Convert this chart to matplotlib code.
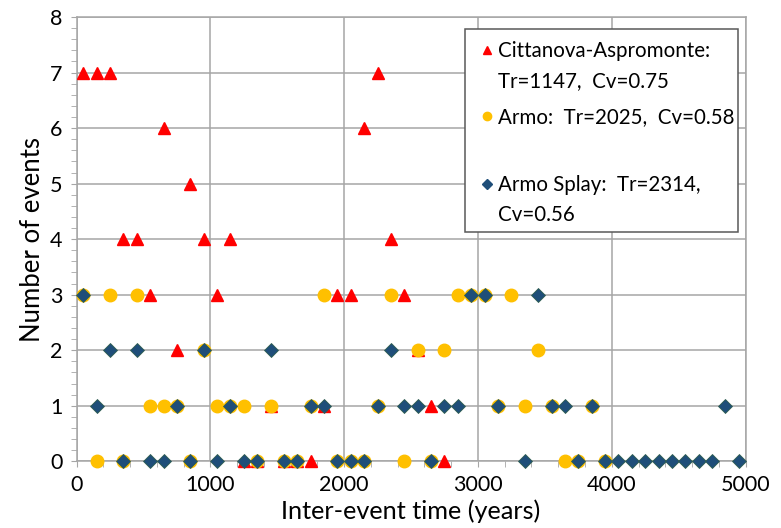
import numpy as np
import matplotlib
matplotlib.use("Agg")
import matplotlib.pyplot as plt
from matplotlib.ticker import MultipleLocator
from matplotlib.patches import Rectangle

plt.rcParams['font.family'] = ['Lato', 'DejaVu Sans']

# ---- data (bin centres in years, number of events per 100-yr bin) ----
red_x = [50, 150, 250, 350, 450, 550, 650, 750, 850, 950, 1050, 1150, 1250, 1350,
         1450, 1550, 1650, 1750, 1850, 1950, 2050, 2150, 2250, 2350, 2450, 2550, 2650, 2750]
red_y = [7, 7, 7, 4, 4, 3, 6, 2, 5, 4, 3, 4, 0, 0,
         1, 0, 0, 0, 1, 3, 3, 6, 7, 4, 3, 2, 1, 0]

yel_x = [50, 150, 250, 350, 450, 550, 650, 750, 850, 950, 1050, 1150, 1250, 1350,
         1450, 1550, 1650, 1750, 1850, 1950, 2050, 2150, 2250, 2350, 2450, 2550, 2650,
         2750, 2850, 2950, 3050, 3150, 3250, 3350, 3450, 3550, 3650, 3750, 3850, 3950]
yel_y = [3, 0, 3, 0, 3, 1, 1, 1, 0, 2, 1, 1, 1, 0,
         1, 0, 0, 1, 3, 0, 0, 0, 1, 3, 0, 2, 0,
         2, 3, 3, 3, 1, 3, 1, 2, 1, 0, 0, 1, 0]

blu_x = [50, 150, 250, 350, 450, 550, 650, 750, 850, 950, 1050, 1150, 1250, 1350,
         1450, 1550, 1650, 1750, 1850, 1950, 2050, 2150, 2250, 2350, 2450, 2550, 2650,
         2750, 2850, 2950, 3050, 3150, 3250, 3350, 3450, 3550, 3650, 3750, 3850, 3950,
         4050, 4150, 4250, 4350, 4450, 4550, 4650, 4750, 4850, 4950]
blu_y = [3, 1, 2, 0, 2, 0, 0, 1, 0, 2, 0, 1, 0, 0,
         2, 0, 0, 1, 1, 0, 0, 0, 1, 2, 1, 1, 0,
         1, 1, 3, 3, 1, np.nan, 0, 3, 1, 1, 0, 1, 0,
         0, 0, 0, 0, 0, 0, 0, 0, 1, 0]

labels = ["Cittanova-Aspromonte:\nTr=1147,  Cv=0.75",
          "Armo:  Tr=2025,  Cv=0.58",
          "Armo Splay:  Tr=2314,\nCv=0.56"]
colors = ["#FF0000", "#FFC000", "#1F4E79"]
xticks = [0, 1000, 2000, 3000, 4000, 5000]
yticks = [0, 1, 2, 3, 4, 5, 6, 7, 8]

fig = plt.figure(figsize=(7.81, 5.28), dpi=100)
ax = fig.add_axes([0.098, 0.1263, 0.8566, 0.8415])

ax.plot(red_x, red_y, linestyle='none', marker='^', ms=9, color=colors[0],
        mec=colors[0], zorder=3, clip_on=False)
ax.plot(yel_x, yel_y, linestyle='none', marker='o', ms=9, color=colors[1],
        mec=colors[1], zorder=4, clip_on=False)
ax.plot(blu_x, blu_y, linestyle='none', marker='D', ms=7, color=colors[2],
        mec="#2F5D50", mew=0.6, zorder=5, clip_on=False)

ax.set_xlim(0, 5000)
ax.set_ylim(0, 8)
ax.set_xticks(xticks)
ax.set_yticks(yticks)
ax.xaxis.set_minor_locator(MultipleLocator(200))
ax.yaxis.set_minor_locator(MultipleLocator(0.2))
ax.grid(True, which='major', color='#A6A6A6', linewidth=1.1)
ax.set_axisbelow(True)
for s in ax.spines.values():
    s.set_color('#A6A6A6')
    s.set_linewidth(1.1)
ax.tick_params(which='major', length=4, color='#A6A6A6', labelsize=15.5, pad=6)
ax.tick_params(which='minor', length=4, color='#A6A6A6')
ax.set_xlabel("Inter-event time (years)", fontsize=18.2, labelpad=3)
ax.set_ylabel("Number of events", fontsize=18.5, labelpad=4)

# legend box (manual, to keep markers on the first text line)
ax.add_patch(Rectangle((0.58, 0.517), 0.409, 0.455, transform=ax.transAxes,
                       facecolor='white', edgecolor='#595959', linewidth=1.1,
                       zorder=10, clip_on=False))
leg_marker_y = [0.926, 0.777, 0.624]
leg_markers = ['^', 'o', 'D']
leg_ms = [6, 6, 5]
for yy, mk, c, lab, m in zip(leg_marker_y, leg_markers, colors, labels, leg_ms):
    ax.plot([0.613], [yy], marker=mk, ms=m, color=c, transform=ax.transAxes,
            zorder=11, clip_on=False)
    ax.text(0.63, yy + 0.021, lab, transform=ax.transAxes, fontsize=14.8, va='top',
            ha='left', zorder=11, linespacing=1.65)

fig.savefig("out.png", dpi=100)
